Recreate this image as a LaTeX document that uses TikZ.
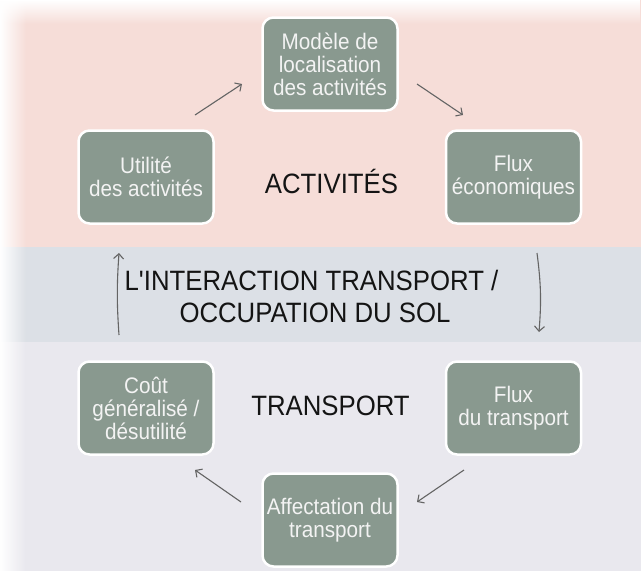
\documentclass[tikz,border=0pt]{standalone}
\usepackage{fontspec}
\usepackage{graphicx}
\newfontfamily\lsans{Liberation Sans}[FakeStretch=0.92]
\usetikzlibrary{arrows.meta,calc,fadings,shadows}
\definecolor{pinkband}{RGB}{246,221,216}
\definecolor{blueband}{RGB}{220,224,230}
\definecolor{greyband}{RGB}{233,232,238}
\definecolor{boxfill}{RGB}{137,153,143}
\definecolor{boxtext}{RGB}{243,243,243}
\definecolor{arrowgray}{RGB}{100,100,100}
\definecolor{labeltext}{RGB}{20,20,20}
\tikzfading[name=fadeleft, left color=transparent!0, right color=transparent!100]
\tikzfading[name=fadetop, top color=transparent!0, bottom color=transparent!100]
\tikzset{
  stepbox/.style={draw=white, line width=2.5pt, fill=boxfill, rounded corners=11pt,
    minimum width=135pt, minimum height=93pt, inner sep=0pt, outer sep=0pt,
    align=center, text=boxtext, font=\lsans\fontsize{22.5}{23}\selectfont,
    drop shadow={shadow xshift=0.8pt, shadow yshift=-0.8pt, opacity=0.25}},
  biglabel/.style={text=labeltext, font=\lsans\fontsize{28}{32}\selectfont,
    inner sep=0pt, anchor=base},
  arr/.style={draw=arrowgray, line width=1.1pt, -{Straight Barb[length=5pt,width=10pt]}},
}
\begin{document}
\begin{tikzpicture}[x=1pt,y=-1pt]
\useasboundingbox (0,0) rectangle (641,571);
% bands
\fill[pinkband] (0,0) rectangle (641,247);
\fill[blueband] (0,247) rectangle (641,342);
\fill[greyband] (0,342) rectangle (641,571);
\fill[white, path fading=fadeleft] (0,0) rectangle (26,571);
\fill[white, path fading=fadetop] (0,0) rectangle (641,24);
% boxes
\node[stepbox] (m) at (330,64) {Modèle de\\localisation\\des activités};
\node[stepbox] (f) at (513.5,177) {Flux\\économiques};
\node[stepbox] (u) at (146,177) {Utilité\\des activités};
\node[stepbox] (c) at (146,408) {Coût\\généralisé /\\désutilité};
\node[stepbox] (t) at (513.5,408) {Flux\\du transport};
\node[stepbox] (a) at (330,520) {Affectation du\\transport};
% labels
\node[biglabel] (act) at (331.5,193) {ACTIVITÉS};
\node[biglabel] (tr) at (330.5,415) {TRANSPORT};
\node[biglabel] (i1) at (311.5,290) {L'INTERACTION TRANSPORT /};
\node[biglabel] (i2) at (315,322) {OCCUPATION DU SOL};
% arrows
\draw[arr] ($(u.north east)+(-18.5,-15.5)$) -- ($(m.south west)+(-20.5,-26.5)$);
\draw[arr] ($(m.south east)+(19.5,-26.5)$) -- ($(f.north west)+(17,-15.5)$);
\draw[arr] ($(f.south)+(23.5,29.5)$) to[bend left=6] ($(t.north)+(25.5,-29.5)$);
\draw[arr] ($(t.south west)+(18,15.5)$) -- ($(a.north east)+(19.5,28.5)$);
\draw[arr] ($(a.north west)+(-21.5,28.5)$) -- ($(c.south east)+(-18.5,15.5)$);
\draw[arr] ($(c.north)+(-27,-26.5)$) to[bend left=4] ($(u.south)+(-27,29.5)$);
\end{tikzpicture}
\end{document}
